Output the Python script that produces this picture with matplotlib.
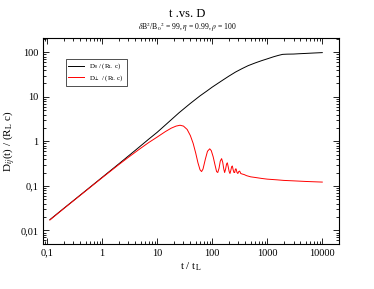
import matplotlib
matplotlib.use('Agg')
import matplotlib.pyplot as plt
from matplotlib.ticker import LogLocator, FixedLocator, FixedFormatter, NullFormatter

plt.rcParams['font.family'] = ['Liberation Serif', 'DejaVu Serif']
plt.rcParams['mathtext.fontset'] = 'stix'

# parallel diffusion coefficient (black)
t_par = [0.112, 0.2, 0.5, 1, 2, 4, 7, 10, 15, 25, 40, 60, 80, 100, 150, 200,
         266, 350, 450, 615, 800, 1000, 1300, 1600, 1900, 2300, 3000, 3800,
         5000, 7000, 10000]
d_par = [0.0175, 0.0313, 0.078, 0.156, 0.312, 0.63, 1.12, 1.6, 2.5, 4.4, 7.1,
         10.5, 13.5, 16.5, 23, 29, 36, 43, 50, 58, 65, 71, 79, 85, 89.5,
         90.5, 91, 92.5, 94, 96, 98]

# perpendicular diffusion coefficient (red)
t_perp = [0.112, 0.2, 0.5, 1, 2, 3, 5, 7, 10, 14, 18, 22, 26, 30, 35, 40, 45,
          50, 55, 60, 64, 68, 75, 82, 90, 96, 104, 112, 120, 126, 133, 140,
          148, 155, 162, 168, 175, 182, 188, 195, 203, 210, 217, 225, 232,
          240, 248, 256, 264, 272, 282, 292, 303, 315, 330, 350, 380, 420,
          500, 600, 800, 1000, 1500, 2000, 3000, 5000, 7000, 10000]
d_perp = [0.0172, 0.031, 0.077, 0.153, 0.30, 0.44, 0.70, 0.94, 1.25, 1.65,
          1.98, 2.2, 2.3, 2.2, 1.85, 1.35, 0.9, 0.55, 0.33, 0.23, 0.21, 0.24,
          0.4, 0.6, 0.68, 0.62, 0.45, 0.3, 0.21, 0.2, 0.25, 0.36, 0.41, 0.34,
          0.24, 0.2, 0.24, 0.31, 0.33, 0.27, 0.21, 0.19, 0.22, 0.27, 0.28,
          0.23, 0.2, 0.2, 0.24, 0.24, 0.2, 0.19, 0.21, 0.215, 0.19, 0.185,
          0.18, 0.17, 0.16, 0.155, 0.147, 0.142, 0.137, 0.133, 0.13, 0.126,
          0.124, 0.122]

x_ticks = [0.1, 1, 10, 100, 1000, 10000]
x_labels = ['0,1', '1', '10', '100', '1000', '10000']
y_ticks = [0.01, 0.1, 1, 10, 100]
y_labels = ['0,01', '0,1', '1', '10', '100']

fig = plt.figure(figsize=(3.74, 2.89), dpi=100)
ax = fig.add_axes([0.115, 0.156, 0.791, 0.713])

ax.plot(t_par, d_par, color='black', lw=0.7, label=r'D$_{||}$ / (R$_\mathrm{L}$ c)')
ax.plot(t_perp, d_perp, color='#ff0000', lw=0.7, label=r'D$_\perp$ / (R$_\mathrm{L}$ c)')

ax.set_xscale('log')
ax.set_yscale('log')
ax.set_xlim(0.084, 20000)
ax.set_ylim(0.005, 210)

ax.xaxis.set_major_locator(FixedLocator(x_ticks))
ax.xaxis.set_major_formatter(FixedFormatter(x_labels))
ax.yaxis.set_major_locator(FixedLocator(y_ticks))
ax.yaxis.set_major_formatter(FixedFormatter(y_labels))
ax.xaxis.set_minor_locator(LogLocator(base=10, subs=range(2, 10)))
ax.yaxis.set_minor_locator(LogLocator(base=10, subs=range(2, 10)))
ax.xaxis.set_minor_formatter(NullFormatter())
ax.yaxis.set_minor_formatter(NullFormatter())
ax.tick_params(which='both', direction='in', top=True, right=True, labelsize=7.5, width=0.6)
ax.tick_params(which='major', length=4)
ax.tick_params(which='minor', length=2)
for s in ax.spines.values():
    s.set_linewidth(0.8)

ax.set_xlabel(r't / t$_\mathrm{L}$', fontsize=8, labelpad=2)
ax.set_ylabel(r'D$_{ij}$(t) / (R$_\mathrm{L}$ c)', fontsize=8, labelpad=2)

fig.text(0.5, 0.942, 't .vs. D', ha='center', fontsize=9)
fig.text(0.5, 0.895, r'$\delta$B$^2$/B$_0$$^2$ = 99, $\eta$ = 0.99, $\rho$ = 100',
         ha='center', fontsize=5.5)

leg = ax.legend(loc='upper left', bbox_to_anchor=(0.065, 0.915), fontsize=5,
                frameon=True, fancybox=False, handlelength=2.2, borderpad=0.4,
                labelspacing=0.25)
leg.get_frame().set_edgecolor('black')
leg.get_frame().set_linewidth(0.6)

fig.savefig('out.png', dpi=100)
